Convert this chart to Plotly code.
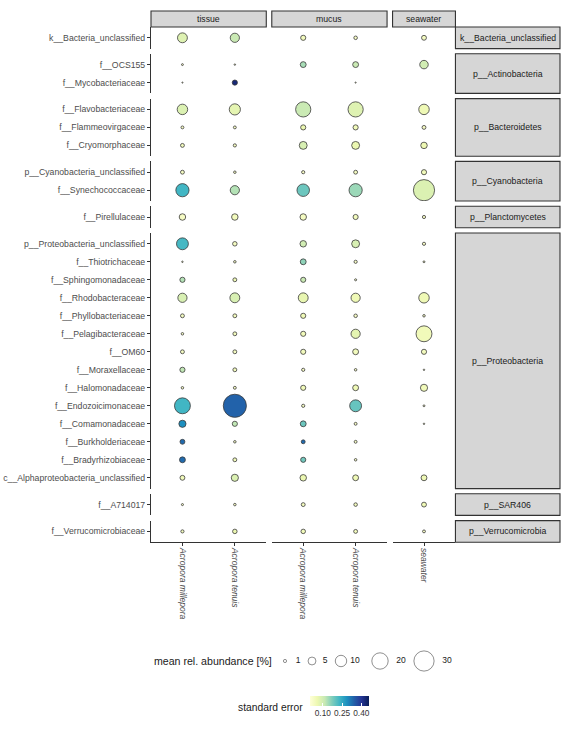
import math
import plotly.graph_objects as go

W, H = 564, 730

# ---------------- data ----------------
groups = ["tissue", "mucus", "seawater"]
group_samples = [["Acropora millepora", "Acropora tenuis"],
                 ["Acropora millepora", "Acropora tenuis"],
                 ["seawater"]]

phyla = ["k__Bacteria_unclassified", "p__Actinobacteria", "p__Bacteroidetes",
         "p__Cyanobacteria", "p__Planctomycetes", "p__Proteobacteria",
         "p__SAR406", "p__Verrucomicrobia"]
phylum_taxa = [
    ["k__Bacteria_unclassified"],
    ["f__OCS155", "f__Mycobacteriaceae"],
    ["f__Flavobacteriaceae", "f__Flammeovirgaceae", "f__Cryomorphaceae"],
    ["p__Cyanobacteria_unclassified", "f__Synechococcaceae"],
    ["f__Pirellulaceae"],
    ["p__Proteobacteria_unclassified", "f__Thiotrichaceae", "f__Sphingomonadaceae",
     "f__Rhodobacteraceae", "f__Phyllobacteriaceae", "f__Pelagibacteraceae",
     "f__OM60", "f__Moraxellaceae", "f__Halomonadaceae", "f__Endozoicimonaceae",
     "f__Comamonadaceae", "f__Burkholderiaceae", "f__Bradyrhizobiaceae",
     "c__Alphaproteobacteria_unclassified"],
    ["f__A714017"],
    ["f__Verrucomicrobiaceae"],
]

# mean relative abundance [%] per taxon (order as in phylum_taxa, flattened)
abund_tissue_millepora = [7.6, 0.43, 0.22, 8.5, 0.85, 1.4, 1.4, 13.2, 3.5, 10.8, 0.3, 2.3, 6.65,
                          1.4, 0.67, 1.4, 2.3, 0.67, 18.9, 4.2, 2.1, 2.9, 2.1, 0.5, 1.0]
abund_tissue_tenuis = [6.65, 0.3, 2.3, 9.6, 0.85, 1.0, 0.67, 6.65, 3.5, 1.8, 0.67, 1.4, 7.6,
                       1.4, 1.4, 1.4, 1.4, 0.85, 39.0, 2.3, 0.67, 1.4, 4.2, 0.67, 1.8]
abund_mucus_millepora = [2.3, 2.9, None, 17.3, 2.3, 5.0, 1.0, 11.9, 3.5, 3.5, 2.9, 2.3, 7.6,
                         2.3, 2.3, 2.3, 1.0, 2.3, 1.0, 2.9, 1.4, 2.3, 3.5, 1.4, 1.8]
abund_mucus_tenuis = [1.2, 2.9, 0.22, 17.3, 2.3, 5.0, 1.4, 13.2, 2.3, 5.0, 1.0, 0.5, 6.65,
                      1.2, 6.65, 2.9, 0.67, 2.9, 10.8, 0.85, 0.85, 0.67, 2.9, 1.2, 1.4]
abund_seawater = [2.1, 5.7, None, 8.5, 1.4, 3.5, 2.3, 32.9, 1.0, 1.0, 0.43, None, 8.5,
                  0.67, 18.9, 2.3, 0.3, 4.2, 0.43, 0.3, None, None, 2.9, 2.1, 0.85]

# standard error per taxon
se_tissue_millepora = [0.08, 0.03, 0.03, 0.085, 0.03, 0.04, 0.035, 0.23, 0.03, 0.225, 0.03, 0.13, 0.09,
                       0.035, 0.03, 0.035, 0.12, 0.03, 0.23, 0.29, 0.33, 0.33, 0.045, 0.03, 0.04]
se_tissue_tenuis = [0.11, 0.03, 0.43, 0.07, 0.03, 0.035, 0.03, 0.13, 0.04, 0.035, 0.03, 0.05, 0.09,
                    0.04, 0.04, 0.035, 0.04, 0.03, 0.34, 0.12, 0.03, 0.045, 0.085, 0.03, 0.06]
se_mucus_millepora = [0.04, 0.14, None, 0.11, 0.06, 0.09, 0.03, 0.19, 0.035, 0.1, 0.16, 0.11, 0.065,
                      0.05, 0.045, 0.04, 0.03, 0.045, 0.035, 0.19, 0.33, 0.185, 0.06, 0.04, 0.045]
se_mucus_tenuis = [0.03, 0.11, 0.03, 0.08, 0.045, 0.06, 0.035, 0.15, 0.04, 0.09, 0.03, 0.03, 0.05,
                   0.03, 0.07, 0.04, 0.03, 0.05, 0.195, 0.03, 0.03, 0.03, 0.05, 0.04, 0.04]
se_seawater = [0.035, 0.1, None, 0.05, 0.03, 0.055, 0.045, 0.085, 0.03, 0.03, 0.03, None, 0.05,
               0.03, 0.045, 0.04, 0.03, 0.045, 0.03, 0.03, None, None, 0.05, 0.05, 0.03]

legend_sizes = [1, 5, 10, 20, 30]
se_ticks = [0.10, 0.25, 0.40]

abund_cols = [[abund_tissue_millepora, abund_tissue_tenuis],
              [abund_mucus_millepora, abund_mucus_tenuis],
              [abund_seawater]]
se_cols = [[se_tissue_millepora, se_tissue_tenuis],
           [se_mucus_millepora, se_mucus_tenuis],
           [se_seawater]]

# ---------------- styling ----------------
FONT = "Liberation Sans"
YLGNBU = ["#ffffd9", "#edf8b1", "#c7e9b4", "#7fcdbb", "#41b6c4",
          "#1d91c0", "#225ea8", "#253494", "#081d58"]
colorscale = [[i / (len(YLGNBU) - 1), c] for i, c in enumerate(YLGNBU)]
LINEW = 0.8


def diam(v):
    return 0.2 + 3.8 * math.sqrt(v) - LINEW


# layout geometry (pixels)
X0, UNIT_W, GAP_W = 151.0, 52.4, 5.5
Y0, UNIT_H, GAP_H = 27.0, 18.0, 5.2
STRIP_TOP = 11.0
RSTRIP_R = 560.0

col_bounds = []
x = X0
for samples in group_samples:
    w = (len(samples) - 1 + 1.2) * UNIT_W
    col_bounds.append((x, x + w))
    x += w + GAP_W

row_bounds = []
y = Y0
for taxa in phylum_taxa:
    h = (len(taxa) - 1 + 1.2) * UNIT_H
    row_bounds.append((y, y + h))
    y += h + GAP_H


def fx(p):
    return p / W


def fy(p):
    return 1 - p / H


fig = go.Figure()
layout = {}
shapes = []
annotations = []

flat_index = 0
taxon_start = []
for taxa in phylum_taxa:
    taxon_start.append(flat_index)
    flat_index += len(taxa)

nrows, ncols = len(phylum_taxa), len(groups)
for r, taxa in enumerate(phylum_taxa):
    s = taxon_start[r]
    for c, samples in enumerate(group_samples):
        idx = r * ncols + c + 1
        xa = "x" if idx == 1 else f"x{idx}"
        ya = "y" if idx == 1 else f"y{idx}"
        xs, ys, sz, col = [], [], [], []
        for k, smp in enumerate(samples):
            a_arr = abund_cols[c][k]
            e_arr = se_cols[c][k]
            for j, t in enumerate(taxa):
                a = a_arr[s + j]
                e = e_arr[s + j]
                if a is None:
                    continue
                xs.append(smp)
                ys.append(t)
                sz.append(diam(a))
                col.append(e)
        fig.add_trace(go.Scatter(
            x=xs, y=ys, mode="markers", xaxis=xa, yaxis=ya, showlegend=False,
            marker=dict(size=sz, color=col, coloraxis="coloraxis",
                        line=dict(color="#3a3a3a", width=LINEW), opacity=1),
            hoverinfo="skip"))
        x0p, x1p = col_bounds[c]
        y0p, y1p = row_bounds[r]
        bottom = (r == nrows - 1)
        layout[f"xaxis{'' if idx == 1 else idx}"] = dict(
            domain=[fx(x0p), fx(x1p)], anchor=ya, type="category",
            categoryorder="array", categoryarray=samples,
            range=[-0.6, len(samples) - 1 + 0.6], fixedrange=True,
            showgrid=False, zeroline=False,
            showline=bottom, linecolor="#333333", linewidth=1.1,
            ticks="outside" if bottom else "", ticklen=3, tickwidth=1, tickcolor="#333333",
            showticklabels=bottom, tickangle=90,
            tickfont=dict(family=FONT, size=8.5, color="#4d4d4d", style="italic"))
        first = (c == 0)
        layout[f"yaxis{'' if idx == 1 else idx}"] = dict(
            domain=[fy(y1p), fy(y0p)], anchor=xa, type="category",
            categoryorder="array", categoryarray=taxa,
            range=[len(taxa) - 1 + 0.6, -0.6], fixedrange=True,
            showgrid=False, zeroline=False,
            showline=first, linecolor="#333333", linewidth=1.1,
            ticks="outside" if first else "", ticklen=3, tickwidth=1, tickcolor="#333333",
            showticklabels=first,
            tickfont=dict(family=FONT, size=8.7, color="#4d4d4d"))

# top strips
for c, g in enumerate(groups):
    x0p, x1p = col_bounds[c]
    shapes.append(dict(type="rect", xref="paper", yref="paper",
                       x0=fx(x0p), x1=fx(x1p), y0=fy(Y0), y1=fy(STRIP_TOP),
                       fillcolor="#d6d6d6", line=dict(color="#333333", width=1.1), layer="below"))
    annotations.append(dict(text=g, xref="paper", yref="paper",
                            x=fx((x0p + x1p) / 2), y=fy((Y0 + STRIP_TOP) / 2),
                            showarrow=False, xanchor="center", yanchor="middle",
                            font=dict(family=FONT, size=8.7, color="#1a1a1a")))

# right strips
rs_left = col_bounds[-1][1]
for r, p in enumerate(phyla):
    y0p, y1p = row_bounds[r]
    shapes.append(dict(type="rect", xref="paper", yref="paper",
                       x0=fx(rs_left), x1=fx(RSTRIP_R), y0=fy(y1p), y1=fy(y0p),
                       fillcolor="#d6d6d6", line=dict(color="#333333", width=1.1), layer="below"))
    annotations.append(dict(text=p, xref="paper", yref="paper",
                            x=fx((rs_left + RSTRIP_R) / 2), y=fy((y0p + y1p) / 2),
                            showarrow=False, xanchor="center", yanchor="middle",
                            font=dict(family=FONT, size=8.7, color="#1a1a1a")))

# size legend (own axis in pixel units)
LEG_Y = 661
leg_x_circ = [285, 312, 341, 380, 424]
leg_x_text = [298, 325, 355, 401, 447]
li = nrows * ncols + 1
fig.add_trace(go.Scatter(
    x=leg_x_circ, y=[LEG_Y] * len(legend_sizes), mode="markers",
    xaxis=f"x{li}", yaxis=f"y{li}", showlegend=False, hoverinfo="skip",
    marker=dict(size=[diam(v) for v in legend_sizes], color="rgba(255,255,255,0)",
                line=dict(color="#3a3a3a", width=LINEW))))
fig.add_trace(go.Scatter(
    x=leg_x_text, y=[LEG_Y] * len(legend_sizes), mode="text",
    text=[str(v) for v in legend_sizes], textposition="middle center",
    textfont=dict(family=FONT, size=8.5, color="#1a1a1a"),
    xaxis=f"x{li}", yaxis=f"y{li}", showlegend=False, hoverinfo="skip"))
layout[f"xaxis{li}"] = dict(domain=[0, 1], range=[0, W], anchor=f"y{li}", visible=False, fixedrange=True)
layout[f"yaxis{li}"] = dict(domain=[fy(690), fy(630)], range=[690, 630], anchor=f"x{li}",
                            visible=False, fixedrange=True)
annotations.append(dict(text="mean rel. abundance [%]", xref="paper", yref="paper",
                        x=fx(274), y=fy(LEG_Y), xanchor="right", yanchor="middle", showarrow=False,
                        font=dict(family=FONT, size=10.6, color="#1a1a1a")))
annotations.append(dict(text="standard error", xref="paper", yref="paper",
                        x=fx(305), y=fy(707), xanchor="right", yanchor="middle", showarrow=False,
                        font=dict(family=FONT, size=10.3, color="#1a1a1a")))

fig.update_layout(
    width=W, height=H, margin=dict(l=0, r=0, t=0, b=0),
    paper_bgcolor="white", plot_bgcolor="rgba(0,0,0,0)",
    shapes=shapes, annotations=annotations,
    coloraxis=dict(colorscale=colorscale, cmin=0.0, cmax=0.46,
                   colorbar=dict(orientation="h", x=fx(310), xanchor="left",
                                 y=fy(696), yanchor="top", len=59, lenmode="pixels",
                                 thickness=10, thicknessmode="pixels",
                                 tickvals=se_ticks, ticktext=[f"{v:.2f}" for v in se_ticks],
                                 ticks="inside", ticklen=3, tickcolor="white",
                                 outlinewidth=0, xpad=0, ypad=0,
                                 tickfont=dict(family=FONT, size=8.3, color="#333333"))),
    **layout)

fig.write_html("out.html")
